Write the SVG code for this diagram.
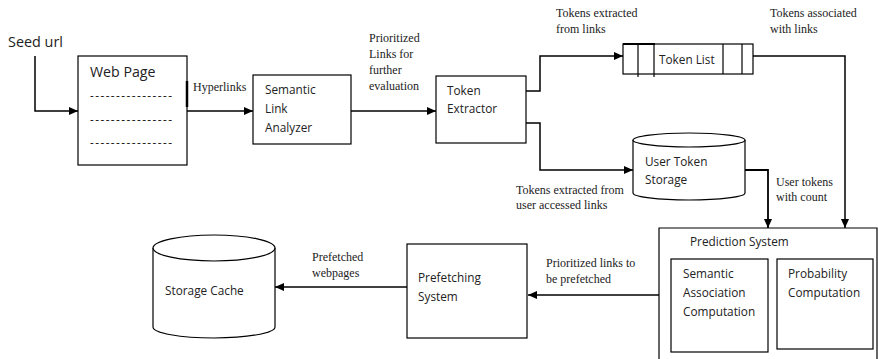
<svg xmlns="http://www.w3.org/2000/svg" width="878" height="359" viewBox="0 0 878 359">
<defs>
<style>
.box{fill:#fff;stroke:#000;stroke-width:1.2}
.ln{fill:none;stroke:#000;stroke-width:1.2}
.cx{fill:none;stroke:#000;stroke-width:1.5}
.s{font-family:"Open Sans","Liberation Sans",sans-serif;font-size:11.8px;fill:#222}
.r{font-family:"Liberation Serif","Times New Roman",serif;font-size:12px;fill:#222}
</style>
<marker id="ah" markerUnits="userSpaceOnUse" markerWidth="10" markerHeight="8" refX="9" refY="4" orient="auto">
<path d="M0,0 L9,4 L0,8 z" fill="#000"/>
</marker>
</defs>
<rect width="878" height="359" fill="#fff"/>

<g id="seed">
<text x="8" y="47" class="s" style="font-size:14.4px">Seed url</text>
</g>

<g id="webpage">
<rect class="box" x="78" y="56" width="109" height="109"/>
<line x1="187" y1="81" x2="187" y2="107" stroke="#000" stroke-width="2.5"/>
<text x="90" y="77" class="s" style="font-size:14.2px">Web Page</text>
<text x="90" y="100" class="s" textLength="82" lengthAdjust="spacing">----------------</text>
<text x="90" y="124" class="s" textLength="82" lengthAdjust="spacing">----------------</text>
<text x="90" y="147" class="s" textLength="82" lengthAdjust="spacing">----------------</text>
</g>

<g id="semantic">
<rect class="box" x="253" y="75" width="98" height="69"/>
<text class="s"><tspan x="265" y="94">Semantic</tspan><tspan x="265" y="113">Link</tspan><tspan x="265" y="132">Analyzer</tspan></text>
</g>

<g id="extractor">
<rect class="box" x="436" y="76" width="90" height="67"/>
<text class="s"><tspan x="447" y="95">Token</tspan><tspan x="447" y="113">Extractor</tspan></text>
</g>

<g id="tokenlist">
<rect class="box" x="623" y="44" width="130" height="30"/>
<line x1="623" y1="44" x2="655" y2="44" stroke="#000" stroke-width="2"/>
<line class="ln" x1="638" y1="44" x2="638" y2="77"/>
<line class="ln" x1="654" y1="44" x2="654" y2="77"/>
<line class="ln" x1="723" y1="44" x2="723" y2="74"/>
<line class="ln" x1="742" y1="44" x2="742" y2="74"/>
<text x="659" y="64" class="s">Token List</text>
</g>

<g id="usertoken">
<path class="box" d="M633,140 V193 A56,7 0 0 0 745,193 V140"/>
<ellipse class="box" cx="689" cy="140" rx="56" ry="7"/>
<text class="s"><tspan x="645" y="166">User Token</tspan><tspan x="645" y="184">Storage</tspan></text>
</g>

<g id="prediction">
<path class="box" d="M659,359 V228 H877 V359"/>
<text x="690" y="246" class="s">Prediction System</text>
<rect class="box" x="671" y="259" width="97" height="93"/>
<text class="s"><tspan x="683" y="278">Semantic</tspan><tspan x="683" y="297">Association</tspan><tspan x="683" y="316">Computation</tspan></text>
<rect class="box" x="777" y="259" width="96" height="90"/>
<text class="s"><tspan x="788" y="278">Probability</tspan><tspan x="788" y="297">Computation</tspan></text>
</g>

<g id="prefetching">
<rect class="box" x="407" y="244" width="120" height="94"/>
<text class="s"><tspan x="418" y="282">Prefetching</tspan><tspan x="418" y="301">System</tspan></text>
</g>

<g id="cache">
<path class="box" d="M153,248 V327 A61,11 0 0 0 275,327 V248"/>
<ellipse class="box" cx="214" cy="248" rx="61" ry="13"/>
<text x="165" y="295" class="s">Storage Cache</text>
</g>

<g id="connectors">
<path class="cx" d="M35,56 V111 H78" marker-end="url(#ah)"/>
<path class="cx" d="M187,111 H253" marker-end="url(#ah)"/>
<path class="cx" d="M351,111 H436" marker-end="url(#ah)"/>
<path class="cx" d="M526,91 H540 V56 H623" marker-end="url(#ah)"/>
<path class="cx" d="M526,123 H540 V170 H633" marker-end="url(#ah)"/>
<path class="cx" d="M753,56 H845 V228" marker-end="url(#ah)"/>
<path class="cx" d="M745,170 H768 V228" marker-end="url(#ah)" style="stroke-width:1.8"/>
<path class="cx" d="M659,295 H528" marker-end="url(#ah)"/>
<path class="cx" d="M407,287 H275" marker-end="url(#ah)"/>
</g>

<g id="labels">
<text x="193" y="91" class="r">Hyperlinks</text>
<text class="r"><tspan x="369" y="42">Prioritized</tspan><tspan x="369" y="58">Links for</tspan><tspan x="369" y="74">further</tspan><tspan x="369" y="90">evaluation</tspan></text>
<text class="r"><tspan x="556" y="17">Tokens extracted</tspan><tspan x="556" y="33">from links</tspan></text>
<text class="r"><tspan x="770" y="17">Tokens associated</tspan><tspan x="770" y="33">with links</tspan></text>
<text class="r"><tspan x="516" y="194">Tokens extracted from</tspan><tspan x="516" y="209">user accessed links</tspan></text>
<text class="r"><tspan x="776" y="186">User tokens</tspan><tspan x="776" y="201">with count</tspan></text>
<text class="r"><tspan x="546" y="267">Prioritized links to</tspan><tspan x="546" y="283">be prefetched</tspan></text>
<text class="r"><tspan x="312" y="261">Prefetched</tspan><tspan x="312" y="277">webpages</tspan></text>
</g>
</svg>
